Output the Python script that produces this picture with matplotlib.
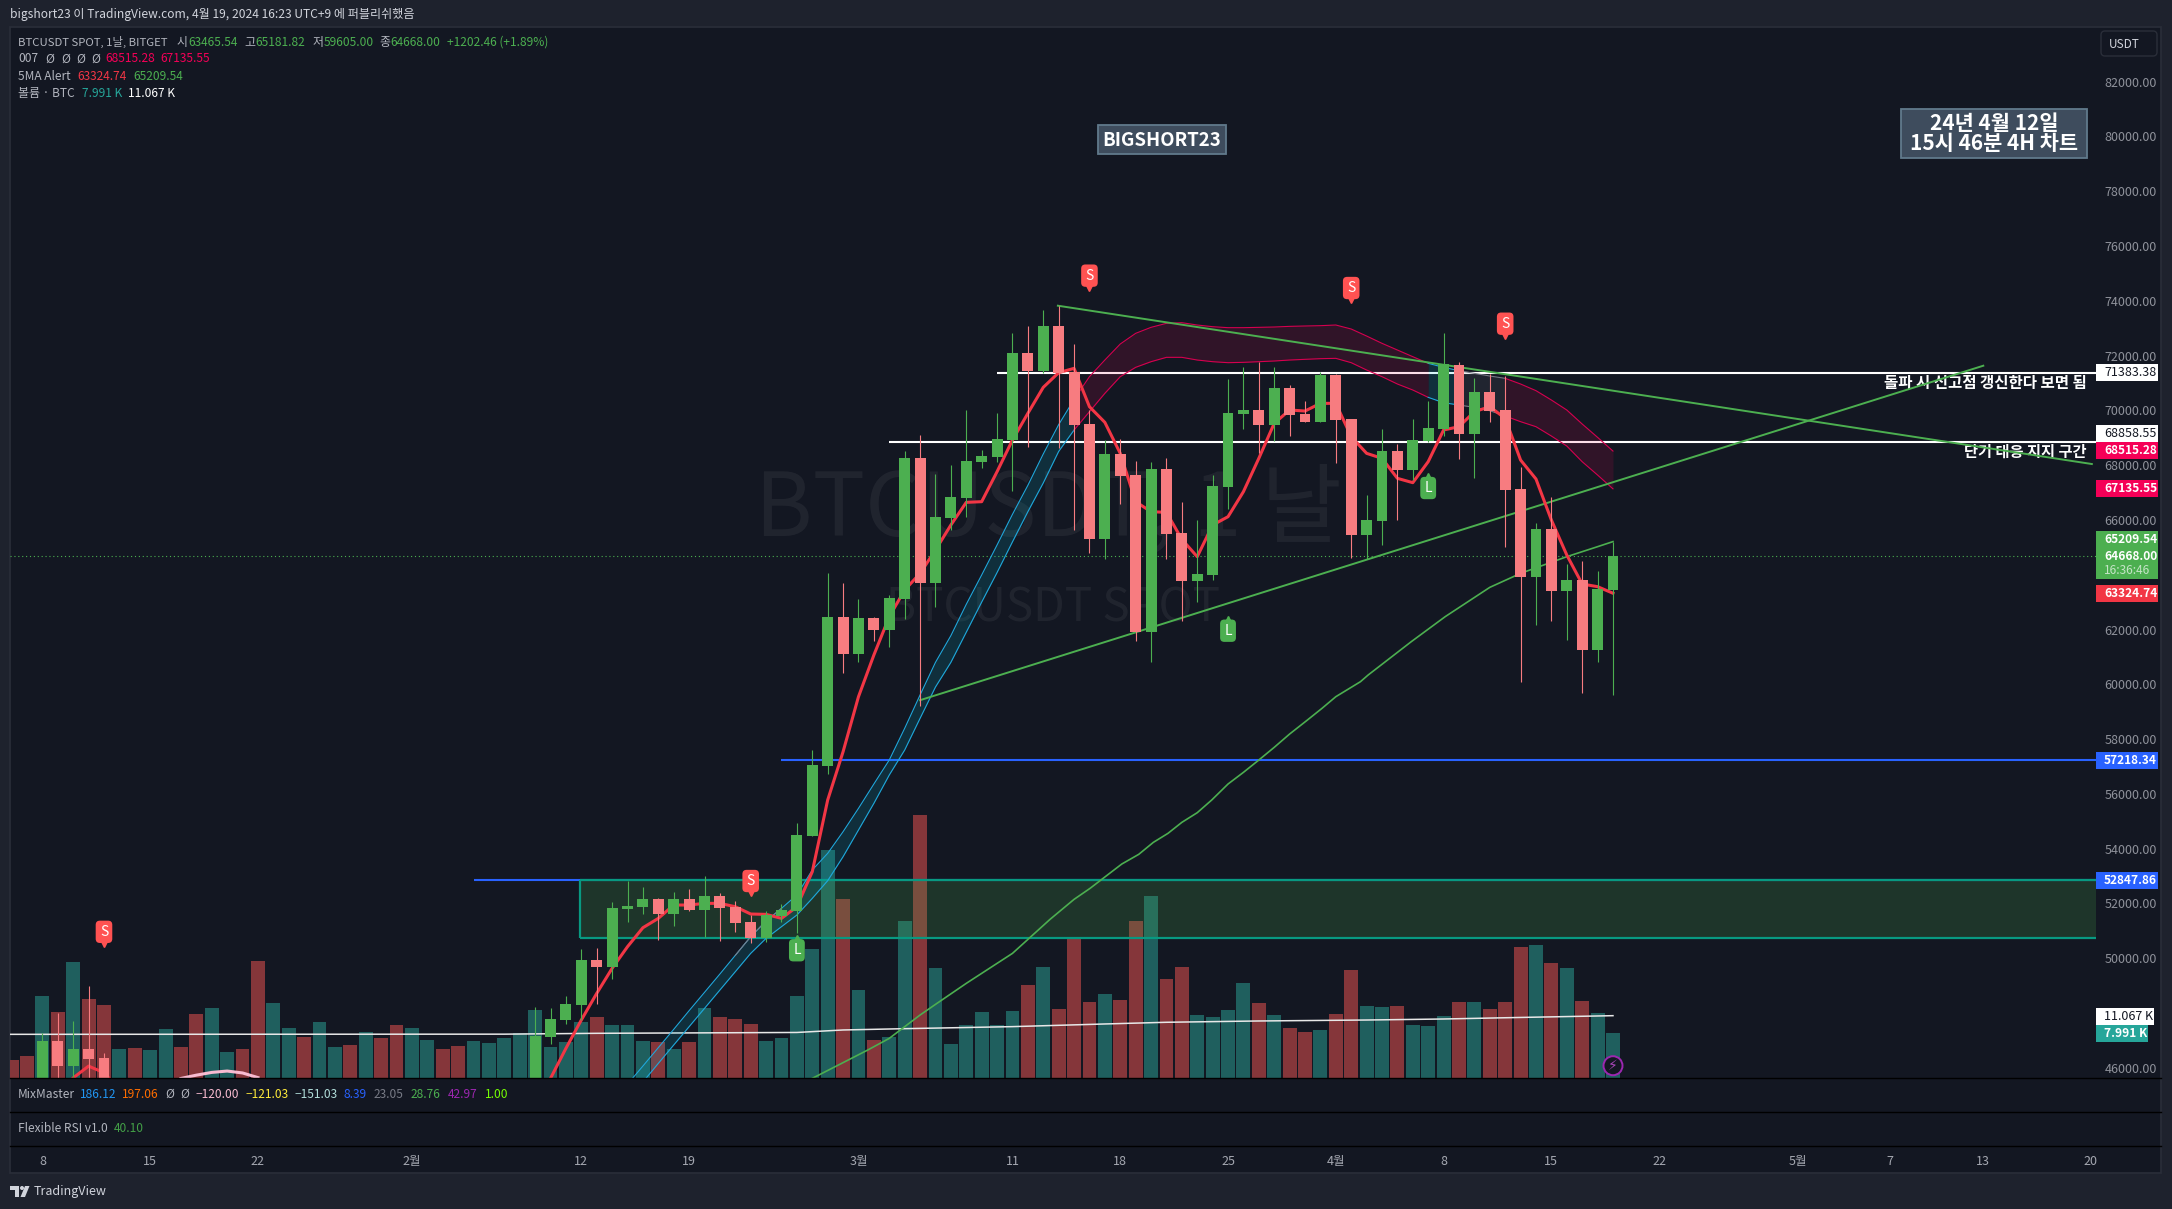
"""BTCUSDT daily TradingView snapshot, redrawn with matplotlib."""

import matplotlib

matplotlib.use("Agg")
import matplotlib.pyplot as plt
from matplotlib.patches import Circle, FancyBboxPatch, Polygon, Rectangle
from matplotlib.transforms import Affine2D

plt.rcParams["font.family"] = ["Noto Sans CJK KR", "DejaVu Sans"]

W, H = 2172, 1209
BG_OUT = "#1E222D"
BG = "#131722"
UP = "#4CAF50"
DOWN = "#F77C80"
VOL_UP = "#1F5F5E"
VOL_DOWN = "#85363A"
AXIS_TXT = "#8F929B"

# x is days after 8 Jan 2024
candle_day = [0, 1, 2, 3, 4] + list(range(32, 103))
candle_open = [
    43950, 46976, 46080, 46680, 46350,
    45300, 47120, 47750, 48300, 49940, 49680, 51795, 51868, 52160, 51613,
    52160, 51758, 52270, 51868, 51320, 50736, 51540, 51722, 54460, 57016,
    62456, 61105, 62419, 61981, 63113, 68261, 63697, 66070, 66801, 68115,
    68298, 68918, 72095, 71438, 73081, 71401, 69503, 65304, 68407, 67641,
    61908, 67860, 65523, 63770, 63990, 67202, 69868, 70014, 69466, 70817,
    69868, 69576, 71292, 69685, 65450, 65961, 68517, 67823, 68882, 69320,
    71657, 69137, 70671, 70014, 67129, 63917, 65669, 63406, 63807, 61251,
    63442,
]
candle_close = [
    46976, 46080, 46680, 46310, 42850,
    47160, 47780, 48320, 49940, 49680, 51840, 51904, 52160, 51613, 52160,
    51758, 52270, 51832, 51284, 50736, 51576, 51758, 54497, 57053, 62456,
    61105, 62419, 61981, 63150, 68261, 63697, 66107, 66838, 68152, 68334,
    68955, 72095, 71438, 73081, 71365, 69466, 65304, 68407, 67604, 61908,
    67860, 65486, 63770, 64026, 67239, 69904, 70014, 69466, 70817, 69831,
    69576, 71292, 69649, 65450, 65998, 68517, 67823, 68918, 69357, 71693,
    69137, 70671, 69977, 67093, 63917, 65669, 63406, 63807, 61251, 63478,
    64668,
]
candle_high = [
    47280, 48000, 47700, 48980, 46530,
    48220, 48180, 48620, 50340, 50370, 52050, 52817, 52598, 52197, 52416,
    52525, 53000, 52379, 52087, 51576, 51722, 51978, 54935, 57600, 64062,
    63697, 63113, 62456, 63260, 68517, 69101, 67677, 68006, 70014, 68553,
    69904, 72825, 73081, 73665, 73811, 72423, 70014, 68918, 68955, 68152,
    68115, 68261, 66655, 65998, 67641, 71145, 71584, 71766, 71584, 70926,
    70342, 71401, 71328, 69685, 66910, 69320, 68772, 69685, 70342, 72825,
    71766, 71182, 71328, 71255, 67933, 65888, 66837, 64391, 64501, 64136,
    65181,
]
candle_low = [
    44700, 44800, 45400, 45500, 41500,
    45000, 46850, 47600, 47750, 48320, 49240, 51320, 51613, 50663, 51174,
    51722, 50760, 50627, 50955, 50554, 50590, 51320, 50919, 54460, 56724,
    60411, 60813, 61580, 61360, 62383, 59200, 62821, 65633, 66107, 67896,
    68115, 67056, 68663, 71365, 68626, 65633, 64793, 64574, 66582, 61580,
    60813, 64574, 62310, 63004, 63807, 66399, 69320, 68444, 68882, 69064,
    69576, 69576, 68079, 64610, 64574, 65085, 65998, 67458, 68846, 69064,
    68225, 67531, 69576, 65012, 60083, 62164, 62310, 61616, 59682, 60813,
    59605,
]

vol_day = list(range(-2, 103))
vol_k = [
    3.24, 3.95, 14.55, 11.72, 20.55, 14.02, 12.96, 5.18, 5.36, 5.0,
    8.72, 5.54, 11.37, 12.43, 4.65, 5.18, 20.73, 13.31, 8.89, 7.3,
    9.95, 5.54, 5.89, 8.19, 7.13, 9.42, 8.89, 6.77, 5.18, 5.71,
    6.6, 6.24, 7.13, 8.0, 12.07, 5.54, 6.42, 9.95, 10.84, 9.42,
    9.42, 6.6, 6.42, 5.18, 6.42, 12.43, 10.84, 10.48, 9.6, 6.6,
    7.13, 14.55, 22.85, 40.3, 31.7, 15.6, 6.77, 7.3, 27.8, 46.5,
    19.5, 6.07, 9.42, 11.72, 9.42, 11.9, 16.5, 19.67, 12.25, 24.7,
    13.49, 14.9, 13.84, 27.8, 32.2, 17.55, 19.67, 11.19, 10.84, 12.07,
    16.84, 13.31, 11.19, 8.89, 8.19, 8.54, 11.37, 19.14, 12.78, 12.6,
    12.78, 9.42, 9.25, 11.01, 13.49, 13.49, 12.25, 13.49, 23.2, 23.56,
    20.38, 19.49, 13.66, 11.54, 7.991,
]
vol_dir = (
    "ddududdudu" "udduudduud" "uududduudd" "uuuuuuuudu" "uudududddu"
    "uuuududuud" "uuuuuududd" "duddudduuu" "ududdudduu" "duuududddu" "duduu"
)

vol_ma_day = [-3, 30, 36, 49, 52, 56, 63, 69, 73, 79, 86, 91, 95, 102]
vol_ma_k = [7.77, 7.8, 7.95, 8.1, 8.54, 8.77, 9.13, 9.6, 9.9, 10.13, 10.3, 10.48, 10.7, 11.067]

ma5_early_day = [1, 2, 3, 4, 5]
ma5_early = [45000, 45630, 46060, 45820, 45200]
ma5_day = list(range(33, 103))
ma5 = [
    45613, 46708, 47743, 48716, 49629, 50420, 51113, 51454, 51941, 51941,
    52002, 52002, 51880, 51613, 51600, 51454, 51880, 53158, 55775, 57539,
    59547, 61069, 62468, 63442, 64050, 64902, 65815, 66643, 66667, 67762,
    68918, 69892, 70841, 71377, 71535, 70135, 69563, 68432, 66667, 66302,
    66277, 65292, 64659, 65815, 66119, 67032, 68249, 69527, 70014, 69977,
    70257, 70257, 69040, 68432, 68249, 67519, 67361, 68128, 69284, 69405,
    69953, 70135, 69709, 68188, 67495, 65998, 64720, 63661, 63564, 63324.74,
]

ma_long_day = [50, 53.6, 55, 57, 58, 60, 63, 65.44, 67, 68.04, 68.8, 70.1, 71.2, 72.15,
               73.1, 74, 75, 75.94, 77, 78, 79, 80, 81, 82.1, 83.1, 84, 85.6,
               86.1, 88.9, 91.1, 94, 96, 99, 101, 102]
ma_long = [45613, 46647, 47073, 47925, 48314, 49081, 50176, 51418, 52148, 52550, 52878, 53438, 53791, 54229,
           54558, 54959, 55312, 55775, 56359, 56785, 57235, 57698, 58184, 58671, 59121, 59547, 60095,
           60339, 61556, 62468, 63539, 64050, 64659, 65024, 65209.54]

arc_day = [9, 10, 11, 12, 13, 14]
arc_price = [45610, 45730, 45830, 45880, 45810, 45640]

ribbon_day = list(range(38, 103))
ribbon_upper = [
    45400, 46062, 46733, 47402, 48083, 48752, 49422, 50103, 50785, 51357,
    51820, 52307, 53220, 53828, 54619, 55471, 56360, 57236, 58392, 59609,
    60800, 61775, 62919, 63990, 65085, 66205, 67263, 68408, 69478, 70400,
    71231, 71839, 72423, 72813, 73032, 73178, 73202, 73117, 73056, 73020,
    73020, 73032, 73044, 73068, 73081, 73093, 73117, 72971, 72715, 72448,
    72204, 71961, 71718, 71571, 71450, 71352, 71255, 71170, 70963, 70720,
    70379, 70014, 69503, 69016, 68515.28,
]
ribbon_lower = [
    44900, 45479, 46160, 46830, 47499, 48168, 48838, 49507, 50176, 50724,
    51151, 51577, 52185, 52830, 53706, 54680, 55654, 56688, 57600, 58757,
    59900, 60800, 61900, 63000, 64080, 65200, 66300, 67350, 68500, 69283,
    69953, 70622, 71231, 71572, 71778, 71937, 71937, 71839, 71778, 71742,
    71754, 71778, 71803, 71839, 71864, 71888, 71900, 71742, 71474, 71231,
    70963, 70744, 70476, 70281, 70196, 70111, 69989, 69795, 69588, 69405,
    69064, 68699, 68127, 67640, 67135.55,
]
ribbon_segments = [(38, 67, "#1FA8DC", "#00BCD4", 0.15), (67, 90, "#D6004F", "#F50057", 0.13),
                   (90, 92, "#1FA8DC", "#00BCD4", 0.15), (92, 95, "#787B86", "#787B86", 0.14),
                   (95, 102, "#D6004F", "#F50057", 0.13)]

trend_a_day, trend_a_price = [65.95, 133.1], [73822, 68042]
trend_b_day, trend_b_price = [57, 126.05], [59420, 71631]

hline_price = [71383.38, 68858.55, 57218.34, 52847.86]
hline_start = [62, 55, 48, 28]
hline_color = ["#FFFFFF", "#FFFFFF", "#2962FF", "#2962FF"]

zone_start, zone_top, zone_bottom = 34.9, 52847.86, 50737
last_price = 64668.0

sell_day = [4, 46, 68, 85, 95]
sell_price = [50963, 52818, 74920, 74468, 73165]
long_day = [49, 77, 90]
long_price = [50290, 61956, 67166]

price_ticks = [46000, 50000, 52000, 54000, 56000, 58000, 60000, 62000, 66000, 68000,
               70000, 72000, 74000, 76000, 78000, 80000, 82000]
time_days = [0, 7, 14, 24, 35, 42, 53, 63, 70, 77, 84, 91, 98, 105, 114, 120, 126, 133]
time_labels = ["8", "15", "22", "2월", "12", "19", "3월", "11", "18", "25", "4월", "8", "15", "22",
               "5월", "7", "13", "20"]

fig = plt.figure(figsize=(W / 100, H / 100), dpi=100, facecolor=BG_OUT)
PX = Affine2D().scale(1, -1).translate(0, H)


def pane_rect(x0, y0, x1, y1):
    return [x0 / W, 1 - y1 / H, (x1 - x0) / W, (y1 - y0) / H]


def put(x, y, s, color="#D1D4DC", size=8.6, **kw):
    kw.setdefault("va", "center")
    kw.setdefault("ha", "left")
    fig.text(x, y, s, color=color, fontsize=size, transform=PX, zorder=12, **kw)


def box(x0, y0, x1, y1, color, edge="none", lw=0, zorder=10):
    fig.add_artist(Rectangle((x0, y0), x1 - x0, y1 - y0, facecolor=color, edgecolor=edge,
                             linewidth=lw, transform=PX, zorder=zorder))


# chart background + pane separators
box(9.5, 27, 2161, 1172.5, BG, edge="#2A2E39", lw=1.2, zorder=-5)
XL = (-2.104, 133.37)
left, right, top, bottom = 10, 2096, 28, 1078.3

ax_vol = fig.add_axes(pane_rect(left, top, right, bottom), zorder=0)
ax_vol.set_facecolor(BG)
ax_vol.set_xlim(XL)
ax_vol.set_ylim(0, 185.6)
ax_vol.axis("off")
vol_colors = [VOL_UP if c == "u" else VOL_DOWN for c in vol_dir]
ax_vol.bar(vol_day, vol_k, width=0.9, color=vol_colors, linewidth=0)
ax_vol.plot(vol_ma_day, vol_ma_k, color="#E8E8E8", lw=1.1)
ax_vol.text(1048, 510, "BTCUSDT, 1 날", transform=PX, fontsize=63, color="#FFFFFF", alpha=0.06,
            ha="center", va="center")
ax_vol.text(1053, 608, "BTCUSDT SPOT", transform=PX, fontsize=33, color="#FFFFFF", alpha=0.06,
            ha="center", va="center")

ax = fig.add_axes(pane_rect(left, top, right, bottom), zorder=1)
ax.patch.set_alpha(0)
ax.set_xlim(XL)
ax.set_ylim(45615, 83961)
for s in ax.spines.values():
    s.set_visible(False)
ax.set_xticks([])
ax.yaxis.tick_right()
ax.set_yticks(price_ticks, [f"{p:.2f}" for p in price_ticks])
ax.tick_params(axis="y", length=0, pad=6, labelsize=9, labelcolor=AXIS_TXT)

# support zone, levels, trend lines
ax.add_patch(Rectangle((zone_start, zone_bottom), XL[1] - zone_start, zone_top - zone_bottom,
                       facecolor=(0.30, 0.69, 0.31, 0.2), edgecolor="none", zorder=2))
ax.hlines(hline_price, hline_start, XL[1], color=hline_color, lw=1.5, zorder=1.9)
ax.hlines([zone_top, zone_bottom], zone_start, XL[1], color="#089981", lw=1.6, zorder=2.2)
ax.vlines(zone_start, zone_bottom, zone_top, color="#089981", lw=1.6, zorder=2.2)
ax.axhline(last_price, color=UP, lw=0.8, ls=(0, (1, 2.5)), zorder=1.5)

day_idx = {d: i for i, d in enumerate(ribbon_day)}
for d0, d1, line_c, fill_c, alpha in ribbon_segments:
    i0, i1 = day_idx[d0], day_idx[d1] + 1
    ax.fill_between(ribbon_day[i0:i1], ribbon_lower[i0:i1], ribbon_upper[i0:i1],
                    color=fill_c, alpha=alpha, lw=0, zorder=2.5)
    ax.plot(ribbon_day[i0:i1], ribbon_upper[i0:i1], color=line_c, lw=0.8, zorder=2.6)
    ax.plot(ribbon_day[i0:i1], ribbon_lower[i0:i1], color=line_c, lw=0.8, zorder=2.6)
i0, i1 = day_idx[45], day_idx[48] + 1
ax.plot(ribbon_day[i0:i1], ribbon_upper[i0:i1], color="#787B86", lw=0.8, zorder=2.7)

ax.plot(arc_day, arc_price, color="#F8BBD0", lw=2.2, zorder=3)
ax.plot(ma_long_day, ma_long, color=UP, lw=1.2, zorder=3.2)
ax.plot(trend_a_day, trend_a_price, color=UP, lw=1.4, zorder=3.3)
ax.plot(trend_b_day, trend_b_price, color=UP, lw=1.4, zorder=3.3)
ax.plot(ma5_early_day, ma5_early, color="#F23645", lw=2.2, zorder=3.5)
ax.plot(ma5_day, ma5, color="#F23645", lw=2.2, zorder=3.5)

# candles
for d, o, c, hi, lo in zip(candle_day, candle_open, candle_close, candle_high, candle_low):
    col = UP if c >= o else DOWN
    ax.vlines(d, lo, hi, color=col, lw=0.8, zorder=4)
    ax.bar(d, abs(c - o), bottom=min(o, c), width=0.71, color=col, linewidth=0, zorder=4.1)

# signal tags
for d, p in zip(sell_day, sell_price):
    ax.plot(d, p, marker="v", ms=7, color="#FF5252", ls="none", zorder=5,
            transform=ax.transData + Affine2D().translate(0, -10))
    ax.text(d, p, "S", color="#FFFFFF", fontsize=10, ha="center", va="center", zorder=6,
            bbox=dict(boxstyle="round,pad=0.3", fc="#FF5252", ec="none"))
for d, p in zip(long_day, long_price):
    ax.plot(d, p, marker="^", ms=7, color=UP, ls="none", zorder=5,
            transform=ax.transData + Affine2D().translate(0, 10))
    ax.text(d, p, "L", color="#FFFFFF", fontsize=10, ha="center", va="center", zorder=6,
            bbox=dict(boxstyle="round,pad=0.3", fc=UP, ec="none"))

# drawn notes
ax.text(2087, 382.7, "돌파 시 신고점 갱신한다 보면 됨", transform=PX, color="#FFFFFF", fontsize=11.2,
        fontweight="bold", ha="right", va="center", zorder=2.9)
ax.text(2087, 451.7, "단기 대응 지지 구간", transform=PX, color="#FFFFFF", fontsize=11,
        fontweight="bold", ha="right", va="center", zorder=2.9)
for x0, y0, x1, y1 in [(1098, 125, 1226, 154), (1901, 109, 2087, 158)]:
    box(x0, y0, x1, y1, "#3E4C5D", edge="#617A8C", lw=1.3)
put(1162, 140, "BIGSHORT23", "#FFFFFF", 13.4, fontweight="bold", ha="center")
put(1994, 123, "24년 4월 12일", "#FFFFFF", 15, fontweight="bold", ha="center")
put(1994, 143, "15시 46분 4H 차트", "#FFFFFF", 15, fontweight="bold", ha="center")

# lightning badge on last volume bar
fig.add_artist(Circle((1613, 1065.7), 9.5, facecolor="#131722", edgecolor="#9C27B0", linewidth=1.4,
                      transform=PX, zorder=11))
fig.text(1613, 1065.7, "⚡", color="#AB47BC", fontsize=10, transform=PX, ha="center", va="center",
         zorder=12, family="DejaVu Sans")

# indicator pane separators + time axis
for y in (1078.3, 1112.3, 1146.3):
    fig.add_artist(plt.Line2D([10, 2161], [y, y], color="#000000", lw=1, transform=PX, zorder=9))
ax_time = fig.add_axes(pane_rect(left, 1146.3, right, 1172), zorder=2)
ax_time.patch.set_alpha(0)
ax_time.set_xlim(XL)
for s in ax_time.spines.values():
    s.set_visible(False)
ax_time.set_yticks([])
ax_time.set_xticks(time_days, time_labels)
ax_time.xaxis.tick_top()
ax_time.tick_params(axis="x", length=0, pad=-15.5, labelsize=9, labelcolor="#A5A8B1")

# header + legends
put(10, 14.3, "bigshort23 이 TradingView.com, 4월 19, 2024 16:23 UTC+9 에 퍼블리쉬했음", "#D1D4DC", 8.7)
LBL = "#B2B5BE"
put(18, 42.3, "BTCUSDT SPOT, 1날, BITGET", LBL, 8.2)
for x, lab, x2, val in [(177, "시", 188.4, "63465.54"), (244, "고", 255, "65181.82"),
                        (312.5, "저", 323.7, "59605.00"), (379.5, "종", 390.6, "64668.00")]:
    put(x, 42.3, lab, LBL)
    put(x2, 42.3, val, UP)
put(447.3, 42.3, "+1202.46 (+1.89%)", UP)
put(18, 59, "007", LBL)
for x in (45.5, 61, 76.8, 91.5):
    put(x, 59, "Ø", LBL)
put(105, 59, "68515.28", "#F50057")
put(160.7, 59, "67135.55", "#F50057")
put(18, 76.3, "5MA Alert", LBL)
put(77.2, 76.3, "63324.74", "#F23645")
put(133, 76.3, "65209.54", UP)
put(18, 93.3, "볼륨 · BTC", LBL)
put(81.7, 93.3, "7.991 K", "#26A69A")
put(128, 93.3, "11.067 K", "#FFFFFF")

put(18, 1094, "MixMaster", LBL)
mix_x = [79.5, 122.3, 165, 180, 195.5, 245.5, 294.6, 343.8, 374, 411, 447.8, 484.8]
mix_txt = ["186.12", "197.06", "Ø", "Ø", "−120.00", "−121.03", "−151.03", "8.39", "23.05", "28.76", "42.97", "1.00"]
mix_col = ["#2196F3", "#FF6D00", LBL, LBL, "#F8BBD0", "#FFEB3B", "#B2DFDB", "#2962FF", "#787B86", UP, "#9C27B0", "#76FF03"]
for x, s, c in zip(mix_x, mix_txt, mix_col):
    put(x, 1094, s, c)
put(18, 1128, "Flexible RSI v1.0", LBL)
put(113.8, 1128, "40.10", "#43A047")

# price scale tags
fig.add_artist(FancyBboxPatch((2102, 32), 54, 23, boxstyle="round,pad=1,rounding_size=4", facecolor=BG,
                              edgecolor="#2A2E39", linewidth=1, transform=PX, zorder=10))
put(2109, 44.7, "USDT", "#D1D4DC", 8.5)
tag_y = [372.4, 433.3, 450.7, 488.3, 593.7, 760.5, 880.7]
tag_txt = ["71383.38", "68858.55", "68515.28", "67135.55", "63324.74", "57218.34", "52847.86"]
tag_bg = ["#FFFFFF", "#FFFFFF", "#F50057", "#F50057", "#F23645", "#2962FF", "#2962FF"]
tag_fg = ["#131722", "#131722", "#FFFFFF", "#FFFFFF", "#FFFFFF", "#FFFFFF", "#FFFFFF"]
for y, s, b, c in zip(tag_y, tag_txt, tag_bg, tag_fg):
    box(2096, y - 8.5, 2158, y + 8.5, b)
    put(2104, y, s, c, 8.6 if c == "#FFFFFF" else 9, fontweight="bold" if c == "#FFFFFF" else "normal")
box(2096, 531.3, 2158, 579, UP)
put(2104, 539.3, "65209.54", "#FFFFFF", 8.6, fontweight="bold")
put(2104, 556.7, "64668.00", "#FFFFFF", 8.6, fontweight="bold")
put(2104, 570.7, "16:36:46", "#C5E4C7", 8.6)
box(2096, 1008, 2154, 1025, "#FFFFFF")
put(2104, 1016.3, "11.067 K", "#131722", 9)
box(2096, 1025, 2148, 1042, "#26A69A")
put(2104, 1033.3, "7.991 K", "#FFFFFF", 8.6, fontweight="bold")

# TradingView footer
for pts in ([(10, 1186), (19, 1186), (19, 1197), (14.5, 1197), (14.5, 1190), (10, 1190)],
            [(25, 1186), (29.5, 1186), (25, 1197), (20.5, 1197)]):
    fig.add_artist(Polygon(pts, closed=True, facecolor="#D1D4DC", edgecolor="none", transform=PX, zorder=11))
fig.add_artist(Circle((22, 1188), 2, facecolor="#D1D4DC", edgecolor="none", transform=PX, zorder=11))
put(33.5, 1191, "TradingView", "#D1D4DC", 9)

fig.savefig("out.png", dpi=100, facecolor=BG_OUT)
